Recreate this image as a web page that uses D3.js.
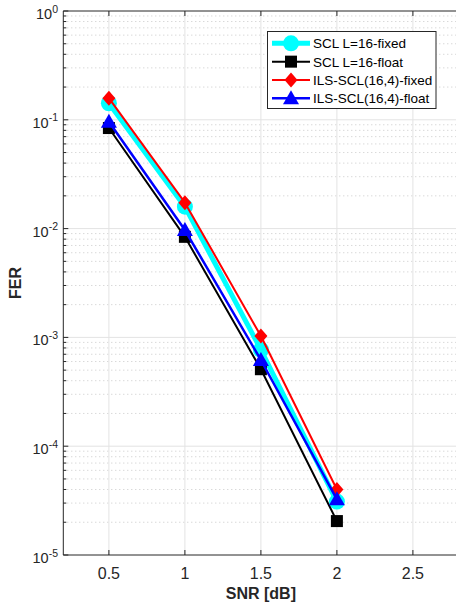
<!DOCTYPE html>
<html><head><meta charset="utf-8">
<script src="https://cdn.jsdelivr.net/npm/d3@7"></script>
<style>body{margin:0;background:#fff}svg{display:block}</style>
</head><body>
<svg id="c" width="456" height="610"></svg>
<script>
const snr = [0.5, 1, 1.5, 2];
const sclFixed = [0.142, 0.0159, 0.00077, 3.1e-5];
const sclFloat = [0.084, 0.0084, 0.00051, 2.05e-5];
const ilsFixed = [0.158, 0.0173, 0.00103, 4.0e-5];
const ilsFloat = [0.096, 0.0097, 0.00062, 3.25e-5];
const seriesNames = ["SCL L=16-fixed", "SCL L=16-float", "ILS-SCL(16,4)-fixed", "ILS-SCL(16,4)-float"];
const xTicks = [0.5, 1, 1.5, 2, 2.5];
const yExps = [0, -1, -2, -3, -4, -5];

const font = "'Liberation Sans', Arial, Helvetica, sans-serif";
const svg = d3.select("#c");
const L = 63.3, R = 458.5, T = 11, B = 555;
const x = d3.scaleLinear().domain([0.2, 2.8]).range([L, R]);
const y = d3.scaleLog().domain([1e-5, 1]).range([B, T]);

const g = svg.append("g");
// minor grid
const minors = [];
for (let e = -5; e < 0; e++) for (let k = 2; k <= 9; k++) minors.push(k * Math.pow(10, e));
g.selectAll(".mg").data(minors).enter().append("line")
  .attr("x1", L).attr("x2", R).attr("y1", d => y(d)).attr("y2", d => y(d))
  .attr("stroke", "#c8c8c8").attr("stroke-width", 1).attr("stroke-dasharray", "1,3");
// major grid
g.selectAll(".gy").data(yExps.slice(1, -1)).enter().append("line")
  .attr("x1", L).attr("x2", R).attr("y1", d => y(Math.pow(10, d))).attr("y2", d => y(Math.pow(10, d)))
  .attr("stroke", "#e3e3e3").attr("stroke-width", 1);
g.selectAll(".gx").data(xTicks).enter().append("line")
  .attr("y1", T).attr("y2", B).attr("x1", d => x(d)).attr("x2", d => x(d))
  .attr("stroke", "#e3e3e3").attr("stroke-width", 1);

// series
const series = [
  {v: sclFixed, color: "#00ffff", w: 5, m: "circle"},
  {v: sclFloat, color: "#000000", w: 2, m: "square"},
  {v: ilsFixed, color: "#ff0000", w: 2, m: "diamond"},
  {v: ilsFloat, color: "#0000ff", w: 2.5, m: "triangle"}
];
function marker(sel, m, color) {
  if (m === "circle") sel.append("circle").attr("r", 8).attr("fill", color);
  else if (m === "square") sel.append("rect").attr("x", -6).attr("y", -6).attr("width", 12).attr("height", 12).attr("fill", color);
  else if (m === "diamond") sel.append("path").attr("d", "M0,-7.5L6.5,0L0,7.5L-6.5,0Z").attr("fill", color);
  else sel.append("path").attr("d", "M0,-8L8,6L-8,6Z").attr("fill", color);
}
const line = d3.line().x(d => x(d[0])).y(d => y(d[1]));
series.forEach(s => {
  const pts = snr.map((xx, i) => [xx, s.v[i]]);
  g.append("path").attr("d", line(pts)).attr("fill", "none").attr("stroke", s.color)
    .attr("stroke-width", s.w).attr("stroke-linejoin", "round");
  pts.forEach(p => {
    const mg = g.append("g").attr("transform", `translate(${x(p[0])},${y(p[1])})`);
    marker(mg, s.m, s.color);
  });
});

// axes
const ax = svg.append("g").attr("stroke", "#262626").attr("stroke-width", 1);
ax.append("line").attr("x1", L).attr("x2", R).attr("y1", B).attr("y2", B);
ax.append("line").attr("x1", L).attr("x2", R).attr("y1", T).attr("y2", T);
ax.append("line").attr("x1", L).attr("x2", L).attr("y1", T).attr("y2", B);
xTicks.forEach(t => {
  ax.append("line").attr("x1", x(t)).attr("x2", x(t)).attr("y1", B).attr("y2", B - 5);
  ax.append("line").attr("x1", x(t)).attr("x2", x(t)).attr("y1", T).attr("y2", T + 5);
});
yExps.forEach(e => {
  ax.append("line").attr("x1", L).attr("x2", L + 5).attr("y1", y(Math.pow(10, e))).attr("y2", y(Math.pow(10, e)));
});
minors.forEach(m => {
  ax.append("line").attr("x1", L).attr("x2", L + 3).attr("y1", y(m)).attr("y2", y(m));
});

// tick labels
svg.selectAll(".xt").data(xTicks).enter().append("text")
  .attr("x", d => x(d)).attr("y", 578.5).attr("text-anchor", "middle")
  .attr("font-family", font).attr("font-size", 16).attr("fill", "#262626")
  .text(d => d);
yExps.forEach(e => {
  const t = svg.append("text").attr("x", 58).attr("y", y(Math.pow(10, e)) + 8).attr("text-anchor", "end")
    .attr("font-family", font).attr("font-size", 14.5).attr("fill", "#262626");
  t.append("tspan").text("10");
  t.append("tspan").attr("font-size", 10.5).attr("dy", -6.5).text(e);
});

// axis titles
svg.append("text").attr("x", (L + R) / 2).attr("y", 599).attr("text-anchor", "middle")
  .attr("font-family", font).attr("font-size", 16).attr("font-weight", "bold").attr("fill", "#262626")
  .text("SNR [dB]");
svg.append("text").attr("transform", `translate(21,${(T + B) / 2}) rotate(-90)`).attr("text-anchor", "middle")
  .attr("font-family", font).attr("font-size", 16).attr("font-weight", "bold").attr("fill", "#262626")
  .text("FER");

// legend
const lg = svg.append("g");
lg.append("rect").attr("x", 267.5).attr("y", 31.5).attr("width", 168.5).attr("height", 77)
  .attr("fill", "#fff").attr("stroke", "#262626").attr("stroke-width", 1);
series.forEach((s, i) => {
  const yy = 43.3 + i * 18.35;
  lg.append("line").attr("x1", 272).attr("x2", 310).attr("y1", yy).attr("y2", yy)
    .attr("stroke", s.color).attr("stroke-width", s.w);
  const mg = lg.append("g").attr("transform", `translate(291,${yy})`);
  marker(mg, s.m, s.color);
  lg.append("text").attr("x", 313).attr("y", yy + 5).attr("font-family", font).attr("font-size", 13.5)
    .attr("fill", "#000").text(seriesNames[i]);
});
</script>
</body></html>
